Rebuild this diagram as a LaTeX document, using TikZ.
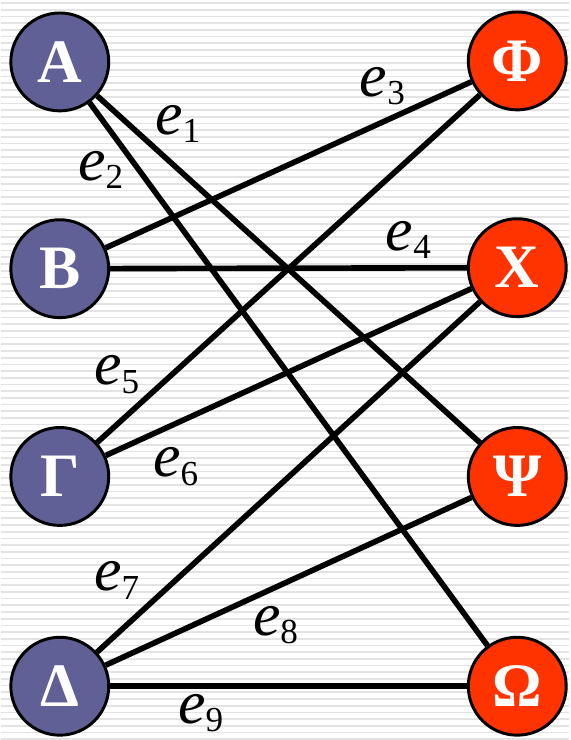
\documentclass[tikz,border=0pt]{standalone}
\usepackage{fontspec}
\setmainfont{Liberation Serif}
\newfontfamily\labfont{Liberation Serif Italic}
\newfontfamily\subfont{Liberation Serif}
\usetikzlibrary{positioning}

\definecolor{leftblue}{RGB}{96,96,150}
\definecolor{rightred}{RGB}{255,51,0}
\newcommand{\edgelab}[1]{{\labfont e}\raisebox{-6pt}{\subfont\fontsize{25}{25}\selectfont #1}}

\begin{document}
\begin{tikzpicture}[
    x=0.025cm, y=-0.025cm,
    vertex/.style={circle, draw, line width=2.1pt, minimum size=2.45cm, inner sep=0pt, text=white, font=\fontsize{44}{44}\selectfont\bfseries},
    leftvertex/.style={vertex, fill=leftblue},
    rightvertex/.style={vertex, fill=rightred},
    edge/.style={line width=4pt},
    lab/.style={font=\fontsize{44}{44}\selectfont, inner sep=0pt},
    stripe/.style={draw=black!11, line width=1.2pt}
]
    % Hintergrund
    \fill[white] (0,0) rectangle (569,740);
    \foreach \y in {3,9.7,...,740}
        \draw[stripe] (0,\y) -- (569,\y);
    \useasboundingbox (0,0) rectangle (569,740);

    % Linke Seite
    \node[leftvertex] (A) at (59,62) {Α};
    \node[leftvertex] (B) at (59,269) {Β};
    \node[leftvertex] (G) at (59,477) {Γ};
    \node[leftvertex] (D) at (59,687) {Δ};

    % Rechte Seite
    \node[rightvertex] (F) at (517,61) {Φ};
    \node[rightvertex] (X) at (517,268) {Χ};
    \node[rightvertex] (P) at (517,477) {Ψ};
    \node[rightvertex] (W) at (517,687) {Ω};

    % Kanten
    \draw[edge] (A) -- (P);
    \draw[edge] (A) -- (W);
    \draw[edge] (B) -- (F);
    \draw[edge] (B) -- (X);
    \draw[edge] (G) -- (F);
    \draw[edge] (G) -- (X);
    \draw[edge] (D) -- (X);
    \draw[edge] (D) -- (P);
    \draw[edge] (D) -- (W);

    % Beschriftungen
    \node[lab] (e1) at (177,124) {\edgelab{1}};
    \node[lab] (e2) at (100,170) {\edgelab{2}};
    \node[lab] (e3) at (382,86) {\edgelab{3}};
    \node[lab] (e4) at (408,240) {\edgelab{4}};
    \node[lab] (e5) at (116,375) {\edgelab{5}};
    \node[lab] (e6) at (175,467) {\edgelab{6}};
    \node[lab] (e7) at (116,581) {\edgelab{7}};
    \node[lab] (e8) at (275,626) {\edgelab{8}};
    \node[lab] (e9) at (200,714) {\edgelab{9}};
\end{tikzpicture}
\end{document}
